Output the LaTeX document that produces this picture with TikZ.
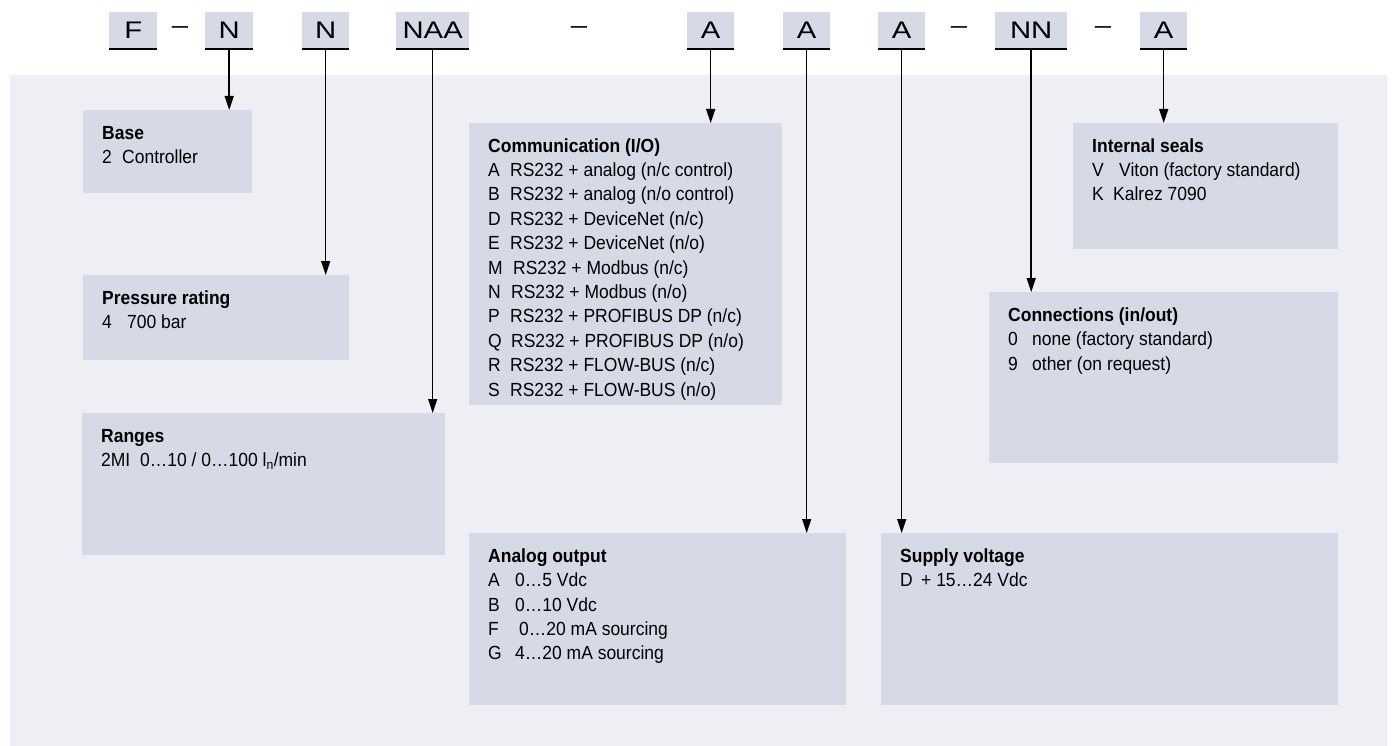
\documentclass[tikz,border=0pt]{standalone}
\usepackage{fontspec}
\setmainfont{Liberation Sans}[FakeStretch=0.92]
\newfontfamily\codefont{Liberation Sans}[FakeStretch=1.22]
\usetikzlibrary{arrows.meta}
\definecolor{bgpanel}{RGB}{238,239,245}
\definecolor{boxfill}{RGB}{213,218,230}
\newcommand{\codecol}[2]{\makebox[#1pt][l]{#2}}
\newcommand{\paneltext}[3]{\parbox[t][#2pt][t]{#1pt}{\fontsize{19}{24.4}\selectfont\rule{0pt}{29pt}#3}}
\tikzset{
  infobox/.style={fill=boxfill, draw=none, anchor=north west, inner xsep=19pt, inner ysep=0pt},
  codebox/.style={fill=boxfill, draw=none, anchor=north west, inner sep=0pt, minimum height=37pt,
                  font=\codefont\fontsize{24}{24}\selectfont},
  codeline/.style={line width=2.2pt},
  dashtext/.style={anchor=base, inner sep=0pt, font=\codefont\fontsize{24}{24}\selectfont},
  conn/.style={line width=1.5pt, -{Triangle[length=14pt,width=9pt]}}
}
\begin{document}
\begin{tikzpicture}[x=1pt,y=-1pt]
\useasboundingbox (0,0) rectangle (1392,746);
\fill[bgpanel] (10,75) rectangle (1387,746);

% code boxes
\node[codebox, minimum width=48pt] (cF)   at (109,12) {F};
\node[codebox, minimum width=48pt] (cN1)  at (205,12) {N};
\node[codebox, minimum width=47pt] (cN2)  at (302,12) {N};
\node[codebox, minimum width=73pt] (cNAA) at (396,12) {NAA};
\node[codebox, minimum width=47pt] (cA1)  at (687,12) {A};
\node[codebox, minimum width=47pt] (cA2)  at (783,12) {A};
\node[codebox, minimum width=47pt] (cA3)  at (878,12) {A};
\node[codebox, minimum width=72pt] (cNN)  at (995,12) {NN};
\node[codebox, minimum width=47pt] (cA4)  at (1140,12) {A};
\foreach \n in {cF,cN1,cN2,cNAA,cA1,cA2,cA3,cNN,cA4}
  \draw[codeline] (\n.south west) -- (\n.south east);

\node[dashtext] (d1) at (180,34) {–};
\node[dashtext] (d2) at (579,34) {–};
\node[dashtext] (d3) at (959,34) {–};
\node[dashtext] (d4) at (1103,34) {–};

% info boxes
\node[infobox] (base) at (83,110) {\paneltext{131}{83}{\textbf{Base}\\\codecol{20}{2}Controller}};
\node[infobox] (press) at (83,275) {\paneltext{228}{85}{\textbf{Pressure rating}\\\codecol{25}{4}700 bar}};
\node[infobox] (ranges) at (82,413) {\paneltext{325}{142}{\textbf{Ranges}\\\codecol{39}{2MI}0…10 / 0…100 l\textsubscript{n}/min}};
\node[infobox] (comm) at (469,123) {\paneltext{275}{282}{\textbf{Communication (I/O)}\\
  \codecol{22}{A}RS232 + analog (n/c control)\\
  \codecol{22}{B}RS232 + analog (n/o control)\\
  \codecol{22}{D}RS232 + DeviceNet (n/c)\\
  \codecol{22}{E}RS232 + DeviceNet (n/o)\\
  \codecol{25}{M}RS232 + Modbus (n/c)\\
  \codecol{23}{N}RS232 + Modbus (n/o)\\
  \codecol{22}{P}RS232 + PROFIBUS DP (n/c)\\
  \codecol{23}{Q}RS232 + PROFIBUS DP (n/o)\\
  \codecol{22}{R}RS232 + FLOW-BUS (n/c)\\
  \codecol{22}{S}RS232 + FLOW-BUS (n/o)}};
\node[infobox] (seals) at (1073,123) {\paneltext{227}{126}{\textbf{Internal seals}\\
  \codecol{27}{V}Viton (factory standard)\\
  \codecol{21}{K}Kalrez 7090}};
\node[infobox] (conns) at (989,292) {\paneltext{311}{171}{\textbf{Connections (in/out)}\\
  \codecol{24}{0}none (factory standard)\\
  \codecol{24}{9}other (on request)}};
\node[infobox] (analog) at (469,533) {\paneltext{339}{172}{\textbf{Analog output}\\
  \codecol{27}{A}0…5 Vdc\\
  \codecol{27}{B}0…10 Vdc\\
  \codecol{31}{F}0…20 mA sourcing\\
  \codecol{27}{G}4…20 mA sourcing}};
\node[infobox] (supply) at (881,533) {\paneltext{419}{172}{\textbf{Supply voltage}\\
  \codecol{21}{D}+ 15…24 Vdc}};

% connectors
\draw[conn] (cN1.south)  -- (cN1.south  |- base.north);
\draw[conn] (cN2.south)  -- (cN2.south  |- press.north);
\draw[conn] (cNAA.south) -- (cNAA.south |- ranges.north);
\draw[conn] (cA1.south)  -- (cA1.south  |- comm.north);
\draw[conn] (cA2.south)  -- (cA2.south  |- analog.north);
\draw[conn] (cA3.south)  -- (cA3.south  |- supply.north);
\draw[conn] (cNN.south)  -- (cNN.south  |- conns.north);
\draw[conn] (cA4.south)  -- (cA4.south  |- seals.north);
\end{tikzpicture}
\end{document}
